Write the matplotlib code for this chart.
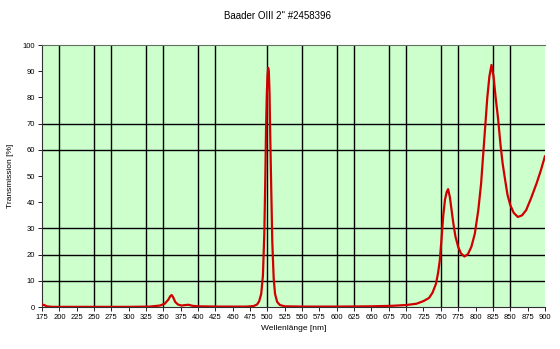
import matplotlib
matplotlib.use("Agg")
import matplotlib.pyplot as plt
import numpy as np

# transmission curve (nm, %)
wavelength = [175, 178, 182, 190, 220, 260, 300, 330, 345, 352, 357, 360, 362, 364,
              367, 371, 376, 382, 386, 392, 400, 430, 470, 480, 485, 488, 491, 493.5,
              495.5, 497, 498, 499, 500, 501, 502, 503, 504, 505.5, 507, 509, 511, 514,
              518, 525, 550, 600, 650, 680, 700, 715, 725, 733, 738, 743, 746, 748.5,
              751, 753.5, 756, 758.5, 760.5, 763, 765.5, 768, 771, 775, 779, 784, 789,
              794, 799, 804, 808, 811, 814, 817, 820, 823, 826, 829, 832.5, 836, 839,
              842, 846, 850, 855, 861, 867, 873, 880, 888, 894, 900]
transmission = [1.0, 0.8, 0.3, 0.1, 0.1, 0.1, 0.1, 0.2, 0.6, 1.3, 2.8, 4.2, 4.6, 3.8,
                2.0, 1.0, 0.6, 0.8, 0.9, 0.5, 0.3, 0.2, 0.2, 0.4, 1.0, 2.2, 5, 12,
                28, 50, 68, 80, 88, 91.3, 90, 82, 66, 45, 25, 11, 5, 2,
                0.8, 0.3, 0.2, 0.2, 0.3, 0.5, 0.8, 1.3, 2.3, 3.5, 5.5, 8.9, 13, 17.8,
                26, 35, 41, 44, 45, 42, 37, 32, 27, 23, 20.5, 19.3, 20.2,
                23, 28, 37, 47, 58, 69, 80, 88, 92.4, 88, 80, 72, 62, 55,
                49.7, 43, 39, 36, 34.4, 35, 37, 41.5, 47.2, 52, 57.5]

x_ticks = list(range(175, 901, 25))
y_ticks = list(range(0, 101, 10))
# gridlines that survive in the reference image
grid_x = [200, 250, 275, 325, 350, 400, 425, 500, 550, 600, 625, 675, 700, 750, 775, 825, 850]
grid_y = [10, 20, 30, 60, 70]

title = 'Baader OIII 2" #2458396'
xlabel = "Wellenlänge [nm]"
ylabel = "Transmission [%]"

plt.rcParams["font.family"] = ["Liberation Sans", "DejaVu Sans"]

fig = plt.figure(figsize=(5.6, 3.49), dpi=100)
ax = fig.add_axes([0.075, 0.12, 0.898, 0.751])
ax.set_facecolor("#ccffcc")

ax.vlines(grid_x, 0, 100, colors="black", linewidth=1.0, zorder=1)
ax.hlines(grid_y, 175, 900, colors="black", linewidth=1.0, zorder=1)

ax.plot(wavelength, transmission, color="#d00000", linewidth=1.6, zorder=3)

ax.set_xlim(175, 900)
ax.set_ylim(0, 100)
ax.set_xticks(x_ticks)
ax.set_yticks(y_ticks)
ax.tick_params(axis="both", labelsize=5.5, length=3, width=0.6, pad=2, colors="black")

for side in ["left", "bottom"]:
    ax.spines[side].set_color("#303030")
    ax.spines[side].set_linewidth(0.8)
ax.spines["top"].set_color("#5f705f")
ax.spines["top"].set_linewidth(0.8)
ax.spines["right"].set_visible(False)

ax.set_xlabel(xlabel, fontsize=6, labelpad=3)
ax.set_ylabel(ylabel, fontsize=6, labelpad=6)
fig.text(0.495, 0.955, title, ha="center", va="center", fontsize=7)

fig.savefig("out.png", dpi=100, facecolor="white")
